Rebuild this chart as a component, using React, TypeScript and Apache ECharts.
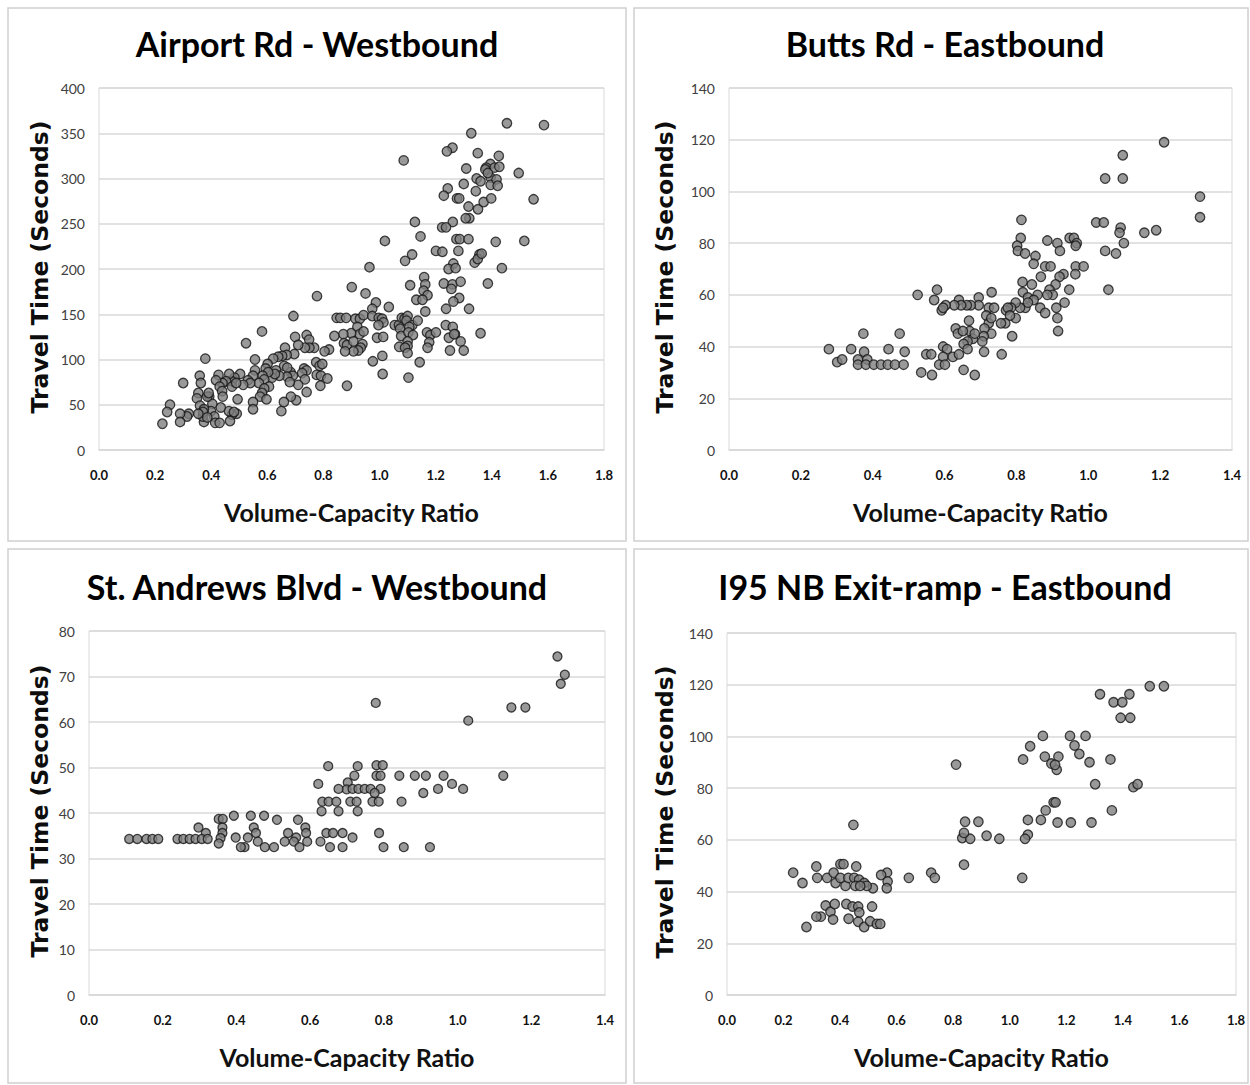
import React, { useEffect, useRef } from "react";
import * as echarts from "echarts";

const titles = [
  "Airport Rd - Westbound",
  "Butts Rd - Eastbound",
  "St. Andrews Blvd - Westbound",
  "I95 NB Exit-ramp - Eastbound",
];
const xAxisTitle = "Volume-Capacity Ratio";
const yAxisTitle = "Travel Time (Seconds)";

const xMaxes = [1.8, 1.4, 1.4, 1.8];
const yMaxes = [400, 140, 80, 140];
const yIntervals = [50, 20, 10, 20];

const airportPoints = [
  [1.454,361],[1.586,359],[1.327,350],[1.26,334],[1.24,330],[1.086,320],[1.35,328],[1.425,325],[1.395,316],[1.38,312],[1.41,312],[1.427,313],[1.309,311],[1.496,306],[1.3,294],[1.243,289],[1.346,300],[1.343,286],[1.36,297],[1.396,301],[1.396,293],[1.417,299],[1.421,292],[1.377,310],[1.386,306],[1.229,281],[1.276,278],[1.284,278],[1.317,269],[1.351,266],[1.371,274],[1.398,278],[1.549,277],[1.32,256],[1.307,256],[1.126,252],[1.261,252],[1.223,246],[1.237,246],[1.019,231],[1.146,236],[1.274,233],[1.286,233],[1.317,233],[1.414,230],[1.516,231],[1.201,220],[1.224,219],[1.281,220],[1.116,216],[1.091,209],[1.356,216],[1.339,207],[1.35,211],[1.364,217],[0.964,202],[1.263,206],[1.246,200],[1.436,201],[1.271,201],[1.386,184],[1.229,184],[1.26,183],[1.256,178],[1.289,186],[1.109,182],[1.159,191],[1.163,183],[0.901,180],[0.777,170],[0.95,173],[1.157,176],[1.171,171],[1.131,166],[1.153,166],[1.284,168],[1.263,164],[0.987,163],[1.033,158],[1.237,156],[1.319,156],[1.163,153],[0.974,156],[0.693,148],[0.581,131],[0.847,146],[0.86,146],[0.881,146],[0.914,145],[0.93,145],[0.943,149],[0.974,148],[0.997,146],[1.009,145],[1.014,141],[0.996,138],[1.054,138],[1.069,138],[1.079,146],[1.089,145],[1.1,148],[1.096,143],[1.117,138],[1.106,136],[1.136,143],[1.236,138],[1.261,136],[1.269,128],[1.36,129],[0.921,136],[0.929,128],[0.943,131],[0.899,129],[0.871,128],[0.839,126],[0.74,127],[0.749,122],[0.699,125],[1.073,134],[1.077,126],[1.103,130],[1.119,127],[1.169,130],[1.181,127],[1.201,130],[1.247,124],[1.266,128],[1.289,120],[1.3,110],[1.251,110],[0.991,124],[1.013,125],[1.1,120],[1.1,115],[1.07,114],[1.177,119],[1.171,113],[0.873,118],[0.884,116],[0.907,120],[0.939,117],[0.933,113],[0.924,110],[0.907,109],[0.877,109],[0.82,111],[0.804,109],[0.767,113],[0.75,113],[0.734,113],[0.71,116],[0.663,113],[0.696,106],[0.669,105],[0.653,104],[0.639,103],[0.621,101],[0.601,95],[0.524,118],[0.556,100],[0.379,101],[0.976,98],[1.01,104],[1.143,97],[1.091,113],[1.1,107],[1.011,84],[1.103,80],[0.884,71],[0.774,97],[0.786,93],[0.796,95],[0.776,83],[0.791,82],[0.814,79],[0.789,71],[0.731,90],[0.74,88],[0.724,85],[0.734,78],[0.74,64],[0.71,72],[0.683,86],[0.691,82],[0.66,93],[0.671,91],[0.67,81],[0.68,75],[0.703,55],[0.684,59],[0.659,53],[0.65,43],[0.631,88],[0.643,82],[0.617,80],[0.627,84],[0.594,90],[0.603,86],[0.583,82],[0.589,78],[0.57,74],[0.606,70],[0.589,68],[0.581,63],[0.574,59],[0.597,56],[0.549,53],[0.549,45],[0.556,88],[0.549,82],[0.531,77],[0.539,74],[0.514,72],[0.503,84],[0.483,80],[0.474,76],[0.464,84],[0.453,76],[0.44,74],[0.426,83],[0.417,77],[0.43,70],[0.439,65],[0.441,59],[0.393,59],[0.474,70],[0.489,74],[0.494,56],[0.491,40],[0.474,39],[0.463,43],[0.467,32],[0.434,47],[0.404,51],[0.399,43],[0.411,37],[0.414,30],[0.43,30],[0.374,31],[0.37,37],[0.359,82],[0.363,74],[0.354,63],[0.349,57],[0.36,49],[0.374,45],[0.371,42],[0.354,40],[0.386,59],[0.391,63],[0.3,74],[0.32,40],[0.314,37],[0.289,40],[0.289,31],[0.253,50],[0.243,42],[0.226,29],[0.386,36],[0.481,42],
];

const buttsPoints = [
  [1.211,119],[1.096,114],[1.047,105],[1.096,105],[1.311,98],[1.311,90],[1.022,88],[1.043,88],[1.09,86],[1.087,84],[1.156,84],[1.189,85],[1.099,80],[1.047,77],[1.077,76],[1.056,62],[0.814,89],[0.812,82],[0.802,79],[0.804,77],[0.824,76],[0.853,75],[0.848,72],[0.886,81],[0.914,80],[0.921,77],[0.948,82],[0.96,82],[0.968,80],[0.965,79],[0.88,71],[0.895,71],[0.965,71],[0.987,71],[0.964,68],[0.931,68],[0.92,67],[0.868,67],[0.817,65],[0.843,64],[0.909,64],[0.892,62],[0.901,60],[0.947,62],[0.934,57],[0.886,60],[0.818,61],[0.832,59],[0.859,60],[0.848,58],[0.866,55],[0.825,55],[0.832,57],[0.81,55],[0.798,57],[0.785,55],[0.771,54],[0.776,55],[0.798,51],[0.782,52],[0.769,49],[0.88,53],[0.911,55],[0.914,51],[0.916,46],[0.788,44],[0.757,49],[0.759,37],[0.731,61],[0.723,55],[0.738,55],[0.716,52],[0.695,59],[0.695,56],[0.673,56],[0.662,56],[0.64,58],[0.646,56],[0.627,56],[0.603,56],[0.592,54],[0.571,58],[0.579,62],[0.525,60],[0.596,55],[0.723,49],[0.73,51],[0.73,45],[0.711,47],[0.709,44],[0.705,42],[0.71,38],[0.668,50],[0.67,46],[0.679,43],[0.664,42],[0.631,47],[0.637,45],[0.651,46],[0.653,41],[0.664,39],[0.684,45],[0.684,29],[0.653,31],[0.596,40],[0.607,39],[0.596,36],[0.623,36],[0.64,37],[0.585,33],[0.601,33],[0.549,37],[0.563,37],[0.535,30],[0.565,29],[0.374,45],[0.475,45],[0.278,39],[0.301,34],[0.315,35],[0.34,39],[0.376,38],[0.444,39],[0.489,38],[0.359,35],[0.385,35],[0.359,33],[0.381,33],[0.403,33],[0.423,33],[0.442,33],[0.462,33],[0.486,33],
];

const standrewsPoints = [
  [1.271,74.4],[1.291,70.4],[1.28,68.4],[1.146,63.2],[1.184,63.2],[1.029,60.3],[0.778,64.2],[1.124,48.2],[0.649,50.3],[0.729,50.3],[0.78,50.5],[0.797,50.5],[0.622,46.4],[0.72,48.2],[0.78,48.2],[0.791,48.2],[0.842,48.2],[0.884,48.2],[0.914,48.2],[0.962,48.2],[0.985,46.4],[1.015,45.3],[0.947,45.3],[0.907,44.4],[0.702,46.7],[0.699,45.2],[0.677,45.3],[0.715,45.3],[0.731,45.3],[0.748,45.3],[0.764,45.3],[0.791,45.3],[0.775,44.4],[0.633,42.5],[0.65,42.5],[0.671,42.5],[0.709,42.5],[0.726,42.5],[0.769,42.5],[0.786,42.5],[0.631,40.4],[0.677,40.4],[0.729,40.4],[0.848,42.5],[0.644,35.6],[0.662,35.6],[0.688,35.6],[0.787,35.6],[0.628,33.7],[0.654,32.5],[0.688,32.5],[0.715,34.6],[0.799,32.5],[0.854,32.5],[0.925,32.5],[0.393,39.4],[0.439,39.4],[0.475,39.4],[0.352,38.7],[0.363,38.7],[0.51,38.5],[0.567,38.5],[0.587,36.8],[0.589,35.6],[0.562,34.6],[0.54,35.6],[0.447,36.8],[0.453,35.6],[0.362,36.8],[0.362,35.6],[0.357,34.5],[0.352,33.3],[0.297,36.8],[0.317,35.6],[0.398,34.6],[0.431,34.6],[0.458,33.7],[0.422,32.5],[0.412,32.5],[0.477,32.5],[0.502,32.5],[0.531,33.7],[0.556,33.7],[0.571,32.5],[0.592,33.7],[0.109,34.3],[0.131,34.3],[0.156,34.3],[0.172,34.3],[0.188,34.3],[0.24,34.3],[0.256,34.3],[0.273,34.3],[0.289,34.3],[0.306,34.3],[0.322,34.3],
];

const i95Points = [
  [1.495,119.4],[1.545,119.4],[1.319,116.3],[1.423,116.3],[1.367,113.2],[1.398,113.2],[1.392,107.2],[1.426,107.2],[1.117,100.2],[1.213,100.2],[1.268,100.2],[1.072,96.2],[1.229,96.5],[1.246,93.2],[1.047,91.1],[1.124,92.2],[1.172,92.2],[1.356,91.1],[1.147,89.5],[1.166,87.1],[1.16,89],[1.282,90],[0.81,89.1],[1.302,81.5],[1.437,80.4],[1.452,81.5],[1.155,74.5],[1.162,74.5],[1.127,71.4],[1.361,71.4],[1.064,67.7],[1.11,67.7],[1.169,66.7],[1.216,66.7],[1.289,66.7],[0.842,67],[0.889,67],[1.064,62],[1.054,60.4],[0.832,60.7],[0.86,60.4],[0.918,61.6],[0.963,60.4],[0.838,62.7],[0.838,50.4],[1.044,45.3],[0.447,65.8],[0.643,45.3],[0.722,47.3],[0.735,45.3],[0.566,47.3],[0.545,46.4],[0.568,43.9],[0.565,41.3],[0.516,41.3],[0.234,47.3],[0.267,43.3],[0.316,49.7],[0.319,45.3],[0.354,45.3],[0.377,47.3],[0.401,50.6],[0.412,50.6],[0.457,49.7],[0.384,43.3],[0.419,42.2],[0.401,45.3],[0.429,45.3],[0.45,45.3],[0.467,44.6],[0.485,43.3],[0.494,42.2],[0.454,42.2],[0.471,42.2],[0.349,34.6],[0.366,32.2],[0.332,30.3],[0.316,30.3],[0.281,26.3],[0.381,35.2],[0.375,29.2],[0.422,35.2],[0.444,34.2],[0.464,34.2],[0.468,31.9],[0.513,34.2],[0.43,29.5],[0.464,28.3],[0.485,26.3],[0.506,28.5],[0.53,27.5],[0.542,27.5],
];

const allPoints = [airportPoints, buttsPoints, standrewsPoints, i95Points];

// layout (pixels)
const grids = [
  { left: 99, top: 88, width: 505, height: 362 },
  { left: 729, top: 88, width: 503, height: 362 },
  { left: 89, top: 631, width: 516, height: 364 },
  { left: 727, top: 633, width: 509, height: 362 },
];
const panels = [
  { x: 8, y: 8, w: 618, h: 533 },
  { x: 634, y: 8, w: 614, h: 533 },
  { x: 8, y: 549, w: 618, h: 534 },
  { x: 634, y: 549, w: 614, h: 534 },
];
const titleCenters = [
  { x: 317, y: 43 },
  { x: 945, y: 43 },
  { x: 317, y: 586 },
  { x: 945, y: 586 },
];
const FONT = "Lato";

export default function App() {
  const ref = useRef<HTMLDivElement>(null);
  useEffect(() => {
    if (!ref.current) return;
    const chart = echarts.init(ref.current, null, { renderer: "svg" });
    const graphic: any[] = [];
    panels.forEach((p) => {
      graphic.push({
        type: "rect",
        shape: { x: p.x, y: p.y, width: p.w, height: p.h },
        style: { fill: "none", stroke: "#d0d0d0", lineWidth: 1.5 },
        silent: true,
      });
    });
    grids.forEach((g, i) => {
      const cx = g.left + g.width / 2;
      graphic.push({
        type: "text",
        x: titleCenters[i].x,
        y: titleCenters[i].y,
        style: {
          text: titles[i],
          font: `bold 34px ${FONT}`,
          fill: "#000",
          align: "center",
          verticalAlign: "middle",
        },
      });
      graphic.push({
        type: "text",
        x: cx,
        y: g.top + g.height + 62,
        style: {
          text: xAxisTitle,
          font: `bold 25px ${FONT}`,
          fill: "#111",
          align: "center",
          verticalAlign: "middle",
        },
      });
      graphic.push({
        type: "text",
        x: i % 2 === 0 ? 40 : 665,
        y: g.top + g.height / 2 - 2,
        rotation: Math.PI / 2,
        style: {
          text: yAxisTitle,
          font: `bold 23.5px "DejaVu Sans"`,
          fill: "#0d0d0d",
          align: "center",
          verticalAlign: "middle",
        },
      });
    });

    const option: any = {
      animation: false,
      backgroundColor: "#fff",
      grid: grids.map((g) => ({
        ...g,
        show: true,
        borderColor: "#d9d9d9",
        borderWidth: 1,
        backgroundColor: "transparent",
      })),
      xAxis: grids.map((_, i) => ({
        type: "value",
        gridIndex: i,
        min: 0,
        max: xMaxes[i],
        interval: 0.2,
        axisLine: { show: true, lineStyle: { color: "#d9d9d9", width: 1.5 } },
        axisTick: { show: false },
        splitLine: { show: false },
        axisLabel: {
          fontFamily: FONT,
          fontSize: 13,
          fontWeight: "bold",
          color: "#111",
          margin: 18,
          formatter: (v: number) => v.toFixed(1),
        },
      })),
      yAxis: grids.map((_, i) => ({
        type: "value",
        gridIndex: i,
        min: 0,
        max: yMaxes[i],
        interval: yIntervals[i],
        axisLine: { show: false },
        axisTick: { show: false },
        splitLine: { show: true, lineStyle: { color: "#d9d9d9", width: 1.5 } },
        axisLabel: {
          fontFamily: FONT,
          fontSize: 14,
          color: "#404040",
          margin: 14,
        },
      })),
      series: allPoints.map((pts, i) => ({
        type: "scatter",
        xAxisIndex: i,
        yAxisIndex: i,
        data: pts,
        symbol: "circle",
        symbolSize: i === 2 ? 9 : 9.5,
        itemStyle: { color: "#7f7f7f", borderColor: "#151515", borderWidth: 1.3 },
        silent: true,
      })),
      graphic,
    };
    chart.setOption(option);
    return () => chart.dispose();
  }, []);
  return (
    <div
      ref={ref}
      style={{ position: "absolute", left: 0, top: 0, width: 1250, height: 1085, background: "#fff" }}
    />
  );
}
